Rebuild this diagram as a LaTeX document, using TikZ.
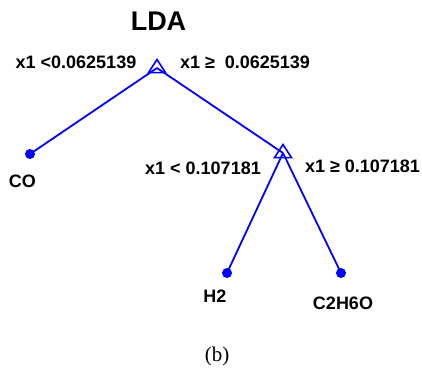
\documentclass[tikz,border=0pt]{standalone}
\usepackage{fontspec}
\setmainfont{Liberation Sans}
\newfontfamily\seriffont{Liberation Serif}
\usetikzlibrary{shapes.geometric}
\definecolor{treeblue}{RGB}{0,0,255}
\begin{document}
\begin{tikzpicture}[x=1pt,y=-1pt,
  lbl/.style={inner sep=0pt,font=\bfseries\fontsize{18}{20}\selectfont,text=black},
  leafdot/.style={circle,fill=treeblue,inner sep=0pt,minimum size=10pt},
  tri/.style={draw=treeblue,line width=1.6pt,isosceles triangle,shape border rotate=90,isosceles triangle apex angle=66,inner sep=0pt,minimum height=12pt,minimum width=17pt},
  edge/.style={draw=treeblue,line width=1.8pt}]
\useasboundingbox (0,0) rectangle (422,372);
% points
\coordinate (r) at (157,68);
\coordinate (b) at (283,153);
\node[leafdot] (co) at (30,154) {};
\node[leafdot] (h2) at (227,273) {};
\node[leafdot] (c2) at (341,273) {};
% edges
\draw[edge] (r) -- (co.center);
\draw[edge] (r) -- (b);
\draw[edge] (b) -- (h2.center);
\draw[edge] (b) -- (c2.center);
% triangles
\node[tri] (rt) at (r) {};
\node[tri] (bt) at (b) {};
% texts
\node[inner sep=0pt,font=\bfseries\fontsize{27}{30}\selectfont] (title) at (158.5,21) {LDA};
\node[lbl] (l1) at (76,62) {x1 <0.0625139};
\node[lbl] (l2) at (245,62) {x1 ≥\ \ 0.0625139};
\node[lbl] (l3) at (203,168) {x1 < 0.107181};
\node[lbl] (l4) at (362.5,166) {x1 ≥ 0.107181};
\node[lbl] (tco) at (22.5,181) {CO};
\node[lbl] (th2) at (215,296) {H2};
\node[lbl] (tc2) at (343,303) {C2H6O};
\node[inner sep=0pt,font=\seriffont\fontsize{21}{24}\selectfont] (cap) at (217,356) {(b)};
\end{tikzpicture}
\end{document}
